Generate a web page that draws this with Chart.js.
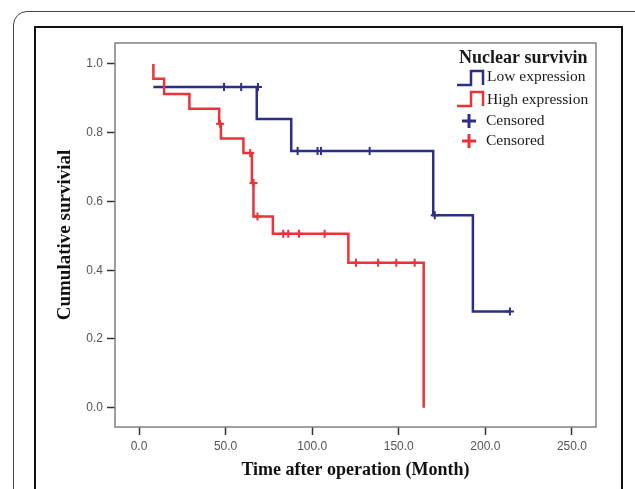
<!DOCTYPE html>
<html>
<head>
<meta charset="utf-8">
<script src="https://cdn.jsdelivr.net/npm/chart.js@4.4.1/dist/chart.umd.min.js"></script>
<style>
    html, body { margin: 0; padding: 0; background: #fff; }
    #wrap { position: relative; width: 635px; height: 489px; overflow: hidden; }
    #outer { position: absolute; left: 13px; top: 11px; width: 640px; height: 500px; border: 1px solid #444; border-radius: 14px; }
    #inner { position: absolute; left: 34px; top: 26px; width: 585px; height: 500px; border: 2px solid #111; }
    canvas { position: absolute; left: 0; top: 0; }
</style>
</head>
<body>
<div id="wrap">
    <div id="outer"></div>
    <div id="inner"></div>
    <canvas id="chart" width="635" height="489"></canvas>
</div>
<script>
// ── datos (Kaplan-Meier) ──
const xTicks = [0, 50, 100, 150, 200, 250];
const yTicks = [0, 0.2, 0.4, 0.6, 0.8, 1.0];

// Low expression
const lowTimes = [8.3, 68.0, 87.9, 169.9, 192.8, 214.2];
const lowSurv  = [0.933, 0.840, 0.747, 0.560, 0.280, 0.280];
const lowCensTimes = [49.1, 59.0, 68.7, 91.6, 103.1, 105.1, 133.2, 170.8, 214.2];
const lowCensSurv  = [0.933, 0.933, 0.933, 0.747, 0.747, 0.747, 0.747, 0.560, 0.280];

// High expression
const highTimes = [8.3, 8.3, 14.5, 29.1, 46.3, 47.3, 60.3, 65.2, 66.1, 77.3, 120.9, 164.4];
const highSurv  = [1.0, 0.957, 0.913, 0.870, 0.826, 0.783, 0.741, 0.654, 0.556, 0.506, 0.422, 0.0];
const highCensTimes = [46.8, 64.2, 66.1, 68.4, 83.3, 86.2, 92.4, 107.2, 125.3, 138.1, 148.6, 159.2];
const highCensSurv  = [0.826, 0.741, 0.654, 0.556, 0.506, 0.506, 0.506, 0.506, 0.422, 0.422, 0.422, 0.422];

const BLUE = '#2b2f88';
const RED = '#ec3338';
const SERIF = '"Liberation Serif", "DejaVu Serif", serif';
const SANS = '"Liberation Sans", Arial, sans-serif';

const pts = (xs, ys) => xs.map((x, i) => ({ x, y: ys[i] }));

// Marco del área y leyenda tipo SPSS
const framePlugin = {
    id: 'frame',
    afterDraw(chart) {
        const { ctx, chartArea: a } = chart;
        ctx.save();
        ctx.strokeStyle = '#808080';
        ctx.lineWidth = 1.5;
        ctx.strokeRect(a.left, a.top, a.right - a.left, a.bottom - a.top);

        ctx.fillStyle = '#1a1a1a';
        ctx.textBaseline = 'middle';
        ctx.textAlign = 'left';
        ctx.font = 'bold 18px ' + SERIF;
        ctx.fillText('Nuclear survivin', 459, 58);

        const stepIcon = (color, y) => {
            ctx.strokeStyle = color;
            ctx.lineWidth = 2.5;
            ctx.beginPath();
            ctx.moveTo(457, y + 7);
            ctx.lineTo(471, y + 7);
            ctx.lineTo(471, y - 7);
            ctx.lineTo(483, y - 7);
            ctx.lineTo(483, y + 7);
            ctx.stroke();
        };
        const crossIcon = (color, y) => {
            ctx.strokeStyle = color;
            ctx.lineWidth = 3;
            ctx.beginPath();
            ctx.moveTo(462, y); ctx.lineTo(476, y);
            ctx.moveTo(469, y - 7); ctx.lineTo(469, y + 7);
            ctx.stroke();
        };

        ctx.font = '15.5px ' + SERIF;
        stepIcon(BLUE, 78);
        ctx.fillText('Low expression', 487, 77);
        stepIcon(RED, 99);
        ctx.fillText('High expression', 487, 100);
        crossIcon(BLUE, 121);
        ctx.fillText('Censored', 486, 121);
        crossIcon(RED, 141);
        ctx.fillText('Censored', 486, 141);
        ctx.restore();
    }
};

new Chart(document.getElementById('chart'), {
    type: 'line',
    data: {
        datasets: [
            {
                label: 'High censored',
                data: pts(highCensTimes, highCensSurv),
                showLine: false,
                pointStyle: 'cross',
                pointRadius: 4,
                pointBorderWidth: 2,
                pointBorderColor: RED,
                order: 0
            },
            {
                label: 'High expression',
                data: pts(highTimes, highSurv),
                stepped: 'before',
                borderColor: RED,
                borderWidth: 2.5,
                pointRadius: 0,
                fill: false,
                order: 1
            },
            {
                label: 'Low censored',
                data: pts(lowCensTimes, lowCensSurv),
                showLine: false,
                pointStyle: 'cross',
                pointRadius: 4,
                pointBorderWidth: 2,
                pointBorderColor: BLUE,
                order: 2
            },
            {
                label: 'Low expression',
                data: pts(lowTimes, lowSurv),
                stepped: 'before',
                borderColor: BLUE,
                borderWidth: 2.5,
                pointRadius: 0,
                fill: false,
                order: 3
            }
        ]
    },
    options: {
        responsive: false,
        animation: false,
        devicePixelRatio: 1,
        layout: { padding: { left: 40, right: 39, top: 43, bottom: 4 } },
        plugins: { legend: { display: false }, tooltip: { enabled: false } },
        scales: {
            x: {
                type: 'linear',
                min: -13.86,
                max: 263.9,
                afterBuildTicks: s => { s.ticks = xTicks.map(v => ({ value: v })); },
                afterFit: s => { s.height = 58; },
                ticks: {
                    callback: v => Number(v).toFixed(1),
                    font: { family: SANS, size: 12 },
                    color: '#555',
                    padding: 4,
                    maxRotation: 0
                },
                grid: { drawOnChartArea: false, drawTicks: true, tickLength: 8, tickColor: '#333', tickWidth: 1.5 },
                border: { display: false },
                title: {
                    display: true,
                    text: 'Time after operation (Month)',
                    font: { family: SERIF, size: 18, weight: 'bold' },
                    color: '#111',
                    padding: { top: 0, bottom: 4 }
                }
            },
            y: {
                type: 'linear',
                min: -0.056,
                max: 1.061,
                afterBuildTicks: s => { s.ticks = yTicks.map(v => ({ value: v })); },
                afterFit: s => { s.width = 75; },
                ticks: {
                    callback: v => Number(v).toFixed(1),
                    font: { family: SANS, size: 12 },
                    color: '#555',
                    padding: 4
                },
                grid: { drawOnChartArea: false, drawTicks: true, tickLength: 8, tickColor: '#333', tickWidth: 1.5 },
                border: { display: false },
                title: {
                    display: true,
                    text: 'Cumulative survivial',
                    font: { family: SERIF, size: 19, weight: 'bold' },
                    color: '#111',
                    padding: { top: 14, bottom: 0 }
                }
            }
        }
    },
    plugins: [framePlugin]
});
</script>
</body>
</html>
